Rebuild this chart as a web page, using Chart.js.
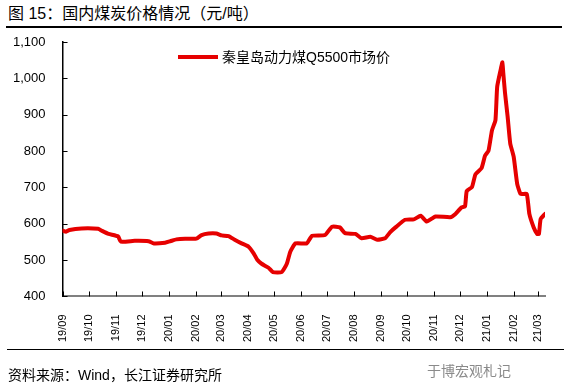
<!DOCTYPE html>
<html>
<head>
<meta charset="utf-8">
<script src="https://cdn.jsdelivr.net/npm/chart.js@4/dist/chart.umd.min.js"></script>
<style>
  body { margin: 0; width: 564px; height: 390px; background: #fff; position: relative; overflow: hidden;
         font-family: "Liberation Sans", "Noto Sans CJK SC", sans-serif; color: #000; }
  #title { position: absolute; left: 6px; right: 2px; top: 0; height: 26px; border-bottom: 2px solid #000;
           font-size: 16px; line-height: 28px; padding-left: 2px; }
  #wrap { position: absolute; left: 0; top: 28px; width: 564px; height: 322px; }
  #legend { position: absolute; left: 178px; top: 47px; height: 20px; font-size: 14px; line-height: 20px; white-space: nowrap; }
  #legend .swatch { display: inline-block; width: 40px; height: 4px; background: rgb(230,0,0); vertical-align: middle; margin-right: 4px; position: relative; top: -1px; }
  #foot { position: absolute; left: 7px; right: 0; top: 349px; border-top: 1.5px solid #000; height: 40px; }
  #src { position: absolute; left: 1px; top: 14px; font-size: 14px; }
  #mark { position: absolute; left: 420px; top: 10px; font-size: 14px; color: #8a8a8a; }
</style>
</head>
<body>
<div id="title">图 15：国内煤炭价格情况（元/吨）</div>
<div id="wrap"><canvas id="c" width="564" height="322"></canvas></div>
<div id="legend"><span class="swatch"></span><span id="legendText"></span></div>
<div id="foot">
  <div id="src">资料来源：Wind，长江证券研究所</div>
  <div id="mark">于博宏观札记</div>
</div>
<script>
const seriesName = "秦皇岛动力煤Q5500市场价";
const monthLabels = ["19/09","19/10","19/11","19/12","20/01","20/02","20/03","20/04","20/05","20/06",
  "20/07","20/08","20/09","20/10","20/11","20/12","21/01","21/02","21/03"];
const yTicks = [400, 500, 600, 700, 800, 900, 1000, 1100];

const dates = [
  "2019-09-01","2019-09-05","2019-09-09","2019-09-23","2019-10-12","2019-10-16","2019-10-24",
  "2019-11-04","2019-11-07","2019-11-23","2019-12-09","2019-12-15","2019-12-28","2020-01-03",
  "2020-01-10","2020-01-20","2020-02-02","2020-02-08","2020-02-16","2020-02-25","2020-03-02",
  "2020-03-10","2020-03-17","2020-03-25","2020-04-02","2020-04-08","2020-04-12","2020-04-17",
  "2020-04-25","2020-04-30","2020-05-10","2020-05-16","2020-05-20","2020-05-26","2020-06-08",
  "2020-06-14","2020-06-29","2020-07-07","2020-07-16","2020-07-22","2020-08-03","2020-08-10",
  "2020-08-20","2020-08-28","2020-09-06","2020-09-12","2020-09-18","2020-09-29","2020-10-09",
  "2020-10-17","2020-10-24","2020-11-03","2020-11-20","2020-11-26","2020-12-03","2020-12-07",
  "2020-12-09","2020-12-15","2020-12-19","2020-12-26","2020-12-30","2021-01-03","2021-01-07",
  "2021-01-11","2021-01-13","2021-01-17","2021-01-19","2021-01-20","2021-01-22","2021-01-25",
  "2021-01-28","2021-02-01","2021-02-05","2021-02-09","2021-02-16","2021-02-19","2021-02-24",
  "2021-02-28","2021-03-02","2021-03-04","2021-03-09"
];
const prices = [
  581, 578, 583, 587, 586, 581, 572,
  565, 551, 553, 552, 546, 548, 552,
  557, 559, 559, 569, 573, 573, 568,
  566, 556, 546, 537, 518, 501, 490,
  479, 467, 467, 490, 523, 546, 546,
  567, 569, 592, 590, 574, 572, 560,
  564, 556, 560, 577, 590, 611, 612,
  622, 606, 620, 618, 627, 645, 648,
  690, 701, 736, 753, 787, 801, 857,
  885, 977, 1024, 1044, 1015, 960, 895,
  821, 784, 710, 682, 682, 627, 590,
  572, 572, 613, 627
];

document.getElementById("legendText").textContent = seriesName;

// days since 2019-09-01
const t0 = Date.UTC(2019, 8, 1);
const dayOf = s => (Date.parse(s) - t0) / 86400000;
const points = dates.map((d, i) => ({ x: dayOf(d), y: prices[i] }));
const tickDays = monthLabels.map(l => {
  const [yy, mm] = l.split("/");
  return (Date.UTC(2000 + Number(yy), Number(mm) - 1, 1) - t0) / 86400000;
});

const red = "rgb(230,0,0)";

// short tick marks pointing into the plot, like the original
const innerTicks = {
  id: "innerTicks",
  afterDraw(chart) {
    const { ctx, chartArea, scales } = chart;
    ctx.save();
    ctx.strokeStyle = "#000";
    ctx.lineWidth = 1;
    ctx.beginPath();
    scales.x.ticks.forEach(t => {
      const px = Math.round(scales.x.getPixelForValue(t.value)) + 0.5;
      ctx.moveTo(px, chartArea.bottom);
      ctx.lineTo(px, chartArea.bottom - 5);
    });
    scales.y.ticks.forEach(t => {
      const py = Math.round(scales.y.getPixelForValue(t.value)) + 0.5;
      ctx.moveTo(chartArea.left, py);
      ctx.lineTo(chartArea.left + 5, py);
    });
    ctx.stroke();
    ctx.restore();
  }
};

new Chart(document.getElementById("c"), {
  type: "line",
  data: {
    datasets: [{
      label: seriesName,
      data: points,
      borderColor: red,
      backgroundColor: red,
      borderWidth: 4,
      pointRadius: 0,
      tension: 0.15,
      borderJoinStyle: "round",
      borderCapStyle: "round"
    }]
  },
  options: {
    responsive: false,
    animation: false,
    layout: { padding: { left: 8, right: 19, top: 14, bottom: 3 } },
    plugins: {
      tooltip: { enabled: false },
      legend: { display: false }
    },
    scales: {
      x: {
        type: "linear",
        min: 0,
        max: dayOf(dates[dates.length - 1]),
        afterBuildTicks: s => { s.ticks = tickDays.map(v => ({ value: v })); },
        border: { color: "#808080", width: 2 },
        grid: { drawOnChartArea: false, drawTicks: true, tickLength: 13, tickColor: "rgba(0,0,0,0)" },
        ticks: {
          autoSkip: false,
          maxRotation: 90,
          minRotation: 90,
          padding: 5,
          color: "#000",
          font: { size: 11, family: "'Liberation Sans'" },
          callback: (v, i) => monthLabels[i]
        }
      },
      y: {
        min: yTicks[0],
        max: yTicks[yTicks.length - 1],
        afterBuildTicks: s => { s.ticks = yTicks.map(v => ({ value: v })); },
        border: { color: "#000", width: 1.5 },
        grid: { drawOnChartArea: false, drawTicks: true, tickLength: 12, tickColor: "rgba(0,0,0,0)" },
        ticks: {
          padding: 5,
          color: "#000",
          font: { size: 13, family: "'Liberation Sans'" },
          callback: v => v.toLocaleString("en-US")
        }
      }
    }
  },
  plugins: [innerTicks]
});
</script>
</body>
</html>
